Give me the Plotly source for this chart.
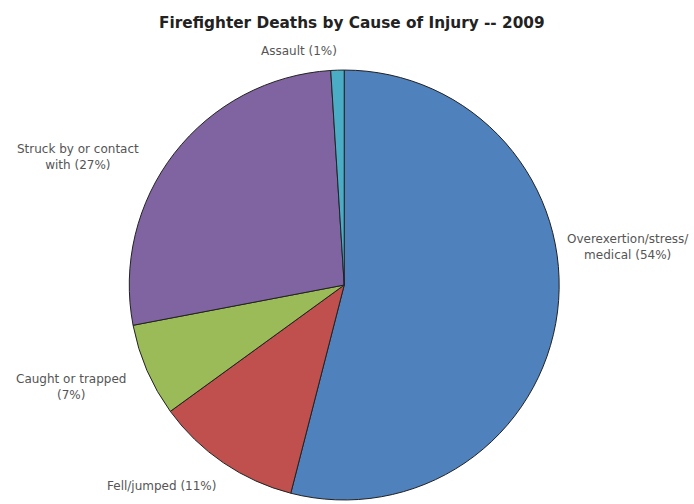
import plotly.graph_objects as go

causes = ["Overexertion/stress/<br>medical", "Fell/jumped", "Caught or trapped<br>", "Struck by or contact<br>with", "Assault"]
shares = [54, 11, 7, 27, 1]
colors = ["#4F81BD", "#C0504D", "#9BBB59", "#8064A2", "#4BACC6"]

# label anchor positions (paper coords) for each slice label
label_x = [0.905, 0.233, 0.102, 0.112, 0.431]
label_y = [0.51, 0.036, 0.232, 0.688, 0.899]

fig = go.Figure(go.Pie(
    labels=[c.replace("<br>", " ") for c in causes],
    values=shares,
    sort=False,
    direction="clockwise",
    rotation=0,
    marker=dict(colors=colors, line=dict(color="#222222", width=1)),
    textinfo="none",
    hoverinfo="label+percent",
    showlegend=False,
    domain=dict(x=[0.186, 0.806], y=[0.008, 0.861]),
))

for c, v, x, y in zip(causes, shares, label_x, label_y):
    sep = "" if c.endswith("<br>") else " "
    fig.add_annotation(
        x=x, y=y, xref="paper", yref="paper",
        xanchor="center", yanchor="middle",
        text=f"{c}{sep}({v}%)",
        showarrow=False, align="center",
        font=dict(family="DejaVu Sans, Verdana, sans-serif", size=12, color="#555555"),
    )

fig.update_layout(
    width=694, height=504,
    margin=dict(l=0, r=0, t=0, b=0),
    paper_bgcolor="white", plot_bgcolor="white",
    title=dict(
        text="<b>Firefighter Deaths by Cause of Injury -- 2009</b>",
        x=0.507, xanchor="center", y=0.956, yanchor="middle",
        font=dict(family="DejaVu Sans, Verdana, sans-serif", size=15.3, color="#222222"),
    ),
)

fig.write_html("out.html", config={"displayModeBar": False},
               post_script="document.body.style.margin='0';")
